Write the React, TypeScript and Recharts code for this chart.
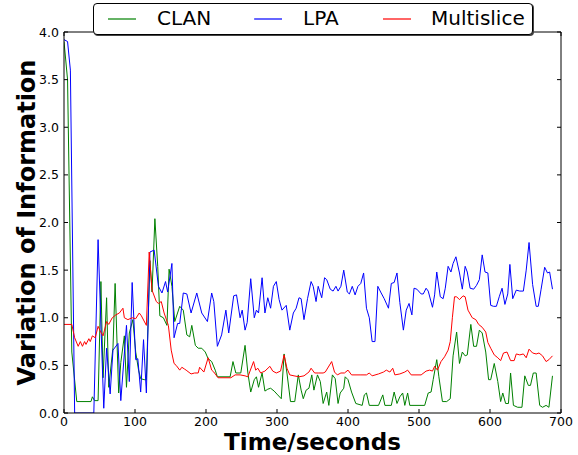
import { LineChart, Line, XAxis, YAxis, ReferenceLine } from "recharts";

// [time in seconds, variation of information]
const clan: [number, number][] = [
  [0, 3.9], [5, 3.5], [11, 0.64], [18, 0.12], [38, 0.12], [40, 0.17], [43, 0.13], [48, 0.13],
  [52, 1.38], [55, 0.37], [60, 1.21], [63, 0.27], [69, 0.69], [72, 1.36], [77, 0.21], [80, 0.53],
  [85, 0.81], [88, 0.27], [92, 0.84], [97, 0.98], [101, 0.64], [105, 0.45], [108, 0.36], [113, 0.35],
  [116, 0.35], [121, 1.6], [124, 1.27], [128, 2.04], [132, 1.54], [135, 1.02], [140, 1.0], [145, 0.92],
  [148, 1.51], [152, 1.33], [156, 0.96], [163, 1.12], [168, 1.08], [173, 0.82], [177, 0.8], [180, 0.92],
  [185, 0.71], [189, 0.68], [194, 0.68], [199, 0.64], [203, 0.57], [208, 0.54], [213, 0.45], [216, 0.38],
  [234, 0.38], [238, 0.54], [242, 0.42], [249, 0.42], [255, 0.71], [259, 0.42], [263, 0.22], [268, 0.35],
  [271, 0.38], [274, 0.27], [279, 0.42], [283, 0.23], [287, 0.25], [291, 0.26], [296, 0.23], [301, 0.19],
  [306, 0.15], [310, 0.62], [314, 0.42], [319, 0.12], [325, 0.12], [330, 0.4], [334, 0.24], [337, 0.15],
  [341, 0.24], [345, 0.26], [349, 0.4], [352, 0.24], [357, 0.4], [361, 0.33], [365, 0.1], [370, 0.22],
  [373, 0.08], [378, 0.4], [382, 0.36], [386, 0.1], [389, 0.21], [394, 0.26], [396, 0.38], [400, 0.35],
  [405, 0.22], [411, 0.1], [420, 0.08], [423, 0.19], [426, 0.21], [430, 0.08], [443, 0.08], [449, 0.19],
  [452, 0.08], [461, 0.08], [465, 0.22], [469, 0.1], [473, 0.17], [477, 0.21], [480, 0.08], [484, 0.21],
  [487, 0.08], [508, 0.08], [513, 0.21], [517, 0.22], [520, 0.35], [525, 0.56], [528, 0.38], [533, 0.12],
  [539, 0.12], [544, 0.15], [548, 0.6], [553, 0.85], [557, 0.52], [561, 0.64], [565, 0.6], [568, 0.61],
  [573, 0.93], [577, 0.7], [581, 0.7], [585, 0.87], [589, 0.84], [594, 0.64], [598, 0.35], [601, 0.35],
  [606, 0.52], [611, 0.33], [615, 0.12], [618, 0.21], [622, 0.1], [626, 0.1], [629, 0.42], [633, 0.08],
  [639, 0.06], [645, 0.06], [649, 0.39], [654, 0.29], [657, 0.29], [661, 0.42], [665, 0.42], [670, 0.08],
  [674, 0.06], [679, 0.08], [683, 0.06], [688, 0.39],
];

const lpa: [number, number][] = [
  [0, 3.92], [5, 3.9], [9, 3.6], [15, 0], [42, 0], [48, 1.82], [56, 0.05], [60, 0.68],
  [65, 0.2], [69, 0.66], [76, 0.73], [80, 0.13], [88, 0.92], [92, 0.33], [96, 1.37], [101, 0.56],
  [104, 0.57], [108, 0.22], [112, 0.77], [116, 0.21], [121, 1.69], [127, 1.71], [133, 1.33], [138, 1.26],
  [143, 1.38], [146, 1.27], [152, 1.57], [155, 0.79], [160, 0.94], [163, 0.94], [168, 1.26], [173, 1.25],
  [179, 1.05], [187, 1.26], [194, 1.05], [202, 0.96], [208, 1.26], [211, 1.17], [216, 0.7], [222, 0.82],
  [228, 1.08], [232, 0.84], [239, 1.23], [243, 1.24], [248, 1.0], [251, 1.08], [255, 0.87], [258, 0.95],
  [263, 1.41], [268, 1.0], [271, 1.08], [274, 1.05], [279, 1.42], [283, 1.05], [287, 1.21], [291, 1.1],
  [295, 1.33], [299, 1.38], [303, 1.19], [307, 1.08], [313, 1.13], [318, 0.87], [323, 1.05], [327, 1.1],
  [331, 1.21], [334, 1.2], [338, 0.98], [343, 1.2], [348, 1.38], [351, 1.33], [355, 1.17], [358, 1.33],
  [363, 1.21], [367, 1.42], [370, 1.4], [375, 1.3], [379, 1.28], [383, 1.33], [386, 1.28], [390, 1.33],
  [394, 1.5], [399, 1.27], [402, 1.25], [406, 1.33], [410, 1.24], [414, 1.33], [418, 1.36], [422, 1.47],
  [426, 1.1], [430, 1.0], [434, 0.75], [438, 0.75], [442, 1.33], [446, 1.27], [451, 1.2], [457, 1.1],
  [461, 1.36], [465, 1.37], [469, 1.47], [473, 1.16], [478, 0.87], [482, 1.08], [486, 1.15], [490, 1.03],
  [493, 1.31], [497, 1.3], [503, 1.25], [506, 1.25], [510, 1.31], [513, 1.28], [519, 1.11], [522, 1.24],
  [525, 1.48], [530, 1.22], [534, 1.2], [537, 1.31], [541, 1.54], [545, 1.48], [548, 1.57], [552, 1.64],
  [557, 1.47], [561, 1.3], [565, 1.54], [568, 1.48], [572, 1.31], [577, 1.3], [581, 1.34], [585, 1.4],
  [589, 1.66], [593, 1.48], [597, 1.47], [601, 1.13], [605, 1.12], [609, 1.12], [613, 1.22], [617, 1.31],
  [621, 1.14], [625, 1.25], [628, 1.56], [632, 1.2], [637, 1.29], [642, 1.28], [647, 1.28], [651, 1.5],
  [655, 1.79], [660, 1.35], [665, 1.12], [668, 1.12], [672, 1.3], [677, 1.53], [681, 1.47], [684, 1.48],
  [688, 1.3],
];

const multislice: [number, number][] = [
  [0, 0.93], [11, 0.93], [15, 0.79], [20, 0.7], [23, 0.75], [26, 0.7], [29, 0.75], [31, 0.72],
  [35, 0.78], [37, 0.75], [40, 0.81], [44, 0.79], [48, 0.91], [51, 0.86], [55, 0.81], [60, 0.96],
  [63, 0.93], [68, 1.0], [73, 1.03], [78, 1.05], [83, 1.1], [85, 1.0], [90, 0.98], [96, 1.0],
  [101, 0.99], [106, 1.05], [109, 1.02], [116, 0.92], [120, 1.69], [124, 1.29], [130, 1.17], [133, 1.15],
  [137, 1.17], [141, 1.05], [147, 0.92], [151, 0.66], [155, 0.52], [158, 0.5], [163, 0.45], [166, 0.48],
  [170, 0.46], [172, 0.45], [179, 0.41], [184, 0.42], [189, 0.42], [191, 0.48], [197, 0.43], [203, 0.58],
  [208, 0.45], [211, 0.43], [217, 0.37], [235, 0.37], [241, 0.4], [248, 0.4], [255, 0.39], [259, 0.38],
  [267, 0.54], [270, 0.45], [273, 0.47], [277, 0.42], [283, 0.44], [290, 0.49], [294, 0.44], [299, 0.42],
  [305, 0.44], [310, 0.61], [314, 0.47], [318, 0.4], [324, 0.39], [331, 0.38], [338, 0.39], [345, 0.43],
  [348, 0.47], [353, 0.42], [358, 0.42], [365, 0.42], [368, 0.43], [377, 0.54], [381, 0.43], [385, 0.4],
  [390, 0.42], [395, 0.42], [400, 0.45], [405, 0.4], [417, 0.4], [426, 0.4], [430, 0.42], [434, 0.39],
  [443, 0.41], [450, 0.43], [454, 0.45], [459, 0.43], [463, 0.47], [466, 0.4], [473, 0.41], [480, 0.43],
  [484, 0.45], [489, 0.4], [503, 0.4], [510, 0.44], [515, 0.45], [519, 0.44], [522, 0.49], [526, 0.45],
  [531, 0.54], [536, 0.59], [541, 0.66], [544, 0.75], [547, 1.0], [550, 1.22], [553, 1.22], [557, 1.19],
  [562, 1.23], [565, 1.22], [569, 1.08], [575, 1.0], [580, 0.98], [584, 0.93], [589, 0.9], [594, 0.85],
  [597, 0.74], [601, 0.68], [606, 0.61], [611, 0.58], [615, 0.55], [619, 0.63], [624, 0.64], [629, 0.55],
  [634, 0.55], [637, 0.62], [642, 0.61], [647, 0.62], [651, 0.58], [655, 0.67], [660, 0.63], [665, 0.62],
  [669, 0.63], [674, 0.6], [679, 0.54], [683, 0.56], [688, 0.6],
];

const xTicks = [0, 100, 200, 300, 400, 500, 600, 700];
const yTicks = [0, 0.5, 1, 1.5, 2, 2.5, 3, 3.5, 4];

const series = [
  { name: "CLAN", points: clan, color: "#008000" },
  { name: "LPA", points: lpa, color: "#0000ff" },
  { name: "Multislice", points: multislice, color: "#ff0000" },
];

const FONT = "'DejaVu Sans', sans-serif";
const LEFT = 64;
const RIGHT = 561;
const TOP = 32;
const BOTTOM = 413;

const XTick = (props: any) => {
  const { x, payload } = props;
  return (
    <g>
      <line x1={x} x2={x} y1={BOTTOM} y2={BOTTOM - 4} stroke="#000" />
      <line x1={x} x2={x} y1={TOP} y2={TOP + 4} stroke="#000" />
      <text x={x} y={425.5} textAnchor="middle" fontSize={12.5} fontFamily={FONT} fill="#000">
        {payload.value}
      </text>
    </g>
  );
};

const YTick = (props: any) => {
  const { y, payload } = props;
  return (
    <g>
      <line x1={LEFT} x2={LEFT + 4} y1={y} y2={y} stroke="#000" />
      <line x1={RIGHT - 4} x2={RIGHT} y1={y} y2={y} stroke="#000" />
      <text x={59} y={y + 4.5} textAnchor="end" fontSize={12.5} fontFamily={FONT} fill="#000">
        {Number(payload.value).toFixed(1)}
      </text>
    </g>
  );
};

const XLabel = () => (
  <text x={(LEFT + RIGHT) / 2} y={450} textAnchor="middle" fontSize={23} fontWeight="bold" fontFamily={FONT} fill="#000">
    Time/seconds
  </text>
);

const YLabel = () => (
  <text
    x={35}
    y={(TOP + BOTTOM) / 2}
    transform={`rotate(-90, 35, ${(TOP + BOTTOM) / 2})`}
    textAnchor="middle"
    fontSize={24}
    fontWeight="bold"
    fontFamily={FONT}
    fill="#000"
  >
    Variation of Information
  </text>
);

const legendItems = [
  { name: "CLAN", lineLeft: 14, textLeft: 63 },
  { name: "LPA", lineLeft: 160, textLeft: 209 },
  { name: "Multislice", lineLeft: 289, textLeft: 337 },
];

const ChartLegend = () => (
  <div
    style={{
      position: "absolute",
      left: 93,
      top: 3,
      width: 438,
      height: 30,
      background: "#fff",
      border: "1px solid #000",
      borderRadius: 4,
      boxShadow: "1px 1px 0 #444",
      fontFamily: FONT,
      fontSize: 20,
    }}
  >
    <svg width={438} height={30} style={{ position: "absolute", left: 0, top: 0 }}>
      {legendItems.map((item) => {
        const s = series.find((d) => d.name === item.name)!;
        return <line key={item.name} x1={item.lineLeft} x2={item.lineLeft + 28} y1={15} y2={15} stroke={s.color} strokeWidth={1.2} />;
      })}
    </svg>
    {legendItems.map((item) => (
      <div key={item.name} style={{ position: "absolute", left: item.textLeft, top: 2, lineHeight: "24px", color: "#000" }}>
        {item.name}
      </div>
    ))}
  </div>
);

export default function App() {
  return (
    <div style={{ position: "absolute", left: 0, top: 0, width: 578, height: 455, background: "#fff" }}>
      <LineChart width={578} height={455} margin={{ top: TOP, right: 578 - RIGHT, bottom: 0, left: 0 }}>
        <XAxis
          type="number"
          dataKey="t"
          domain={[0, 700]}
          ticks={xTicks}
          height={455 - BOTTOM}
          tickLine={false}
          axisLine={{ stroke: "#000" }}
          tick={<XTick />}
          label={<XLabel />}
          allowDataOverflow
        />
        <YAxis
          type="number"
          domain={[0, 4]}
          ticks={yTicks}
          width={LEFT}
          tickLine={false}
          axisLine={{ stroke: "#000" }}
          tick={<YTick />}
          label={<YLabel />}
          allowDataOverflow
        />
        <ReferenceLine y={4} stroke="#000" ifOverflow="extendDomain" />
        <ReferenceLine x={700} stroke="#000" ifOverflow="extendDomain" />
        {series.map((s) => (
          <Line
            key={s.name}
            name={s.name}
            data={s.points.map(([t, v]) => ({ t, v }))}
            dataKey="v"
            stroke={s.color}
            strokeWidth={1}
            dot={false}
            activeDot={false}
            isAnimationActive={false}
          />
        ))}
      </LineChart>
      <ChartLegend />
    </div>
  );
}
